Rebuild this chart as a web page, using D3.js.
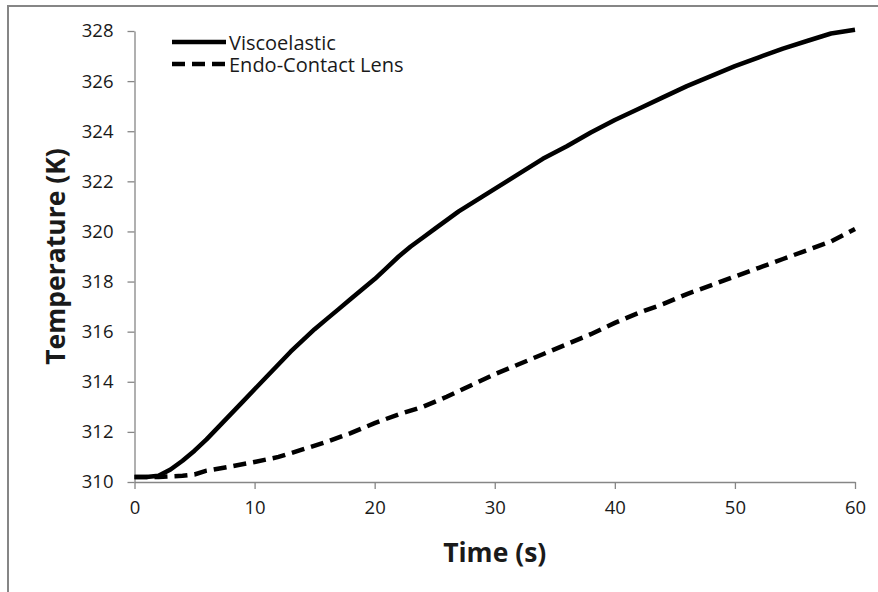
<!DOCTYPE html>
<meta charset="utf-8">
<script src="https://d3js.org/d3.v7.min.js"></script>
<style>
  body { margin: 0; background: #fff; }
  text { font-family: "Open Sans", "Noto Sans", sans-serif; fill: #1a1a1a; }
</style>
<div id="chart"></div>
<script>

  // data
  var timeVisco = [0, 1, 2, 3, 4, 5, 6, 7, 8, 9, 10, 11, 12, 13, 14, 15, 16, 17, 18, 19, 20, 21, 22, 23, 24, 25, 26, 27, 28, 29, 30, 32, 34, 36, 38, 40, 42, 44, 46, 48, 50, 52, 54, 56, 58, 60];
  var tempVisco = [310.2, 310.2, 310.25, 310.5, 310.85, 311.25, 311.7, 312.2, 312.7, 313.2, 313.7, 314.2, 314.7, 315.2, 315.65, 316.1, 316.5, 316.9, 317.3, 317.7, 318.1, 318.55, 319.0, 319.4, 319.75, 320.1, 320.45, 320.8, 321.1, 321.4, 321.7, 322.3, 322.9, 323.4, 323.95, 324.45, 324.9, 325.35, 325.8, 326.2, 326.6, 326.95, 327.3, 327.6, 327.9, 328.05];

  var timeEndo = [0, 2, 4, 5, 6, 8, 10, 12, 14, 16, 18, 20, 22, 24, 26, 28, 30, 32, 34, 36, 38, 40, 42, 44, 46, 48, 50, 52, 54, 56, 58, 60];
  var tempEndo = [310.2, 310.2, 310.25, 310.3, 310.45, 310.62, 310.8, 311.0, 311.3, 311.6, 311.95, 312.35, 312.7, 313.0, 313.4, 313.85, 314.3, 314.7, 315.1, 315.5, 315.9, 316.35, 316.75, 317.1, 317.5, 317.85, 318.2, 318.55, 318.9, 319.25, 319.6, 320.1];

  var seriesNames = ["Viscoelastic", "Endo-Contact Lens"];
  var xTicks = [0, 10, 20, 30, 40, 50, 60];
  var yTicks = [310, 312, 314, 316, 318, 320, 322, 324, 326, 328];

  var W = 878, H = 592;
  var margin = {top: 31, right: 23, bottom: 110, left: 134.5};
  var width = W - margin.left - margin.right,
      height = H - margin.top - margin.bottom;

  var svg = d3.select("#chart")
    .append("svg")
    .attr("width", W)
    .attr("height", H);

  // outer chart border (cropped at right and bottom)
  svg.append("rect")
    .attr("x", 8).attr("y", 6)
    .attr("width", 1000).attr("height", 1000)
    .attr("fill", "none")
    .attr("stroke", "#868686")
    .attr("stroke-width", 2);

  var g = svg.append("g")
    .attr("transform", "translate(" + margin.left + "," + margin.top + ")");

  var x = d3.scaleLinear().domain([0, 60]).range([0, width]);
  var y = d3.scaleLinear().domain([310, 328]).range([height, 0]);

  // X axis
  var xAxis = g.append("g")
    .attr("transform", "translate(0," + height + ")")
    .call(d3.axisBottom(x).tickValues(xTicks).tickSize(7).tickSizeOuter(0).tickPadding(12));
  // Y axis
  var yAxis = g.append("g")
    .call(d3.axisLeft(y).tickValues(yTicks).tickSize(7).tickSizeOuter(0).tickPadding(14));

  [xAxis, yAxis].forEach(function (a) {
    a.select(".domain").attr("stroke", "#868686").attr("stroke-width", 1.3);
    a.selectAll(".tick line").attr("stroke", "#868686").attr("stroke-width", 1.3);
    a.selectAll(".tick text")
      .style("font-family", "'Open Sans', sans-serif")
      .style("font-size", "18.5px")
      .attr("fill", "#1a1a1a");
  });

  // Lines
  var line = d3.line()
    .x(function (d) { return x(d[0]); })
    .y(function (d) { return y(d[1]); });

  var visco = timeVisco.map(function (t, i) { return [t, tempVisco[i]]; });
  var endo = timeEndo.map(function (t, i) { return [t, tempEndo[i]]; });

  g.append("path")
    .datum(endo)
    .attr("fill", "none")
    .attr("stroke", "#000")
    .attr("stroke-width", 4.5)
    .attr("stroke-dasharray", "13,7")
    .attr("d", line);

  g.append("path")
    .datum(visco)
    .attr("fill", "none")
    .attr("stroke", "#000")
    .attr("stroke-width", 4.5)
    .attr("stroke-linejoin", "round")
    .attr("d", line);

  // Axis titles
  svg.append("text")
    .attr("text-anchor", "middle")
    .attr("x", margin.left + width / 2)
    .attr("y", 562)
    .style("font-size", "26.5px")
    .style("font-weight", "bold")
    .text("Time (s)");

  svg.append("text")
    .attr("text-anchor", "middle")
    .attr("transform", "translate(65," + (margin.top + height / 2) + ") rotate(-90)")
    .style("font-size", "26.5px")
    .style("font-weight", "bold")
    .text("Temperature (K)");

  // Legend
  var legend = svg.append("g");
  var legY = [42, 64];
  legend.append("line").attr("x1", 172).attr("x2", 226).attr("y1", legY[0]).attr("y2", legY[0])
    .attr("stroke", "#000").attr("stroke-width", 4.5);
  legend.append("line").attr("x1", 172).attr("x2", 226).attr("y1", legY[1]).attr("y2", legY[1])
    .attr("stroke", "#000").attr("stroke-width", 4.5).attr("stroke-dasharray", "13,7");
  seriesNames.forEach(function (n, i) {
    legend.append("text")
      .attr("x", 229).attr("y", legY[i])
      .attr("dominant-baseline", "central")
      .style("font-size", "20px")
      .text(n);
  });

</script>
